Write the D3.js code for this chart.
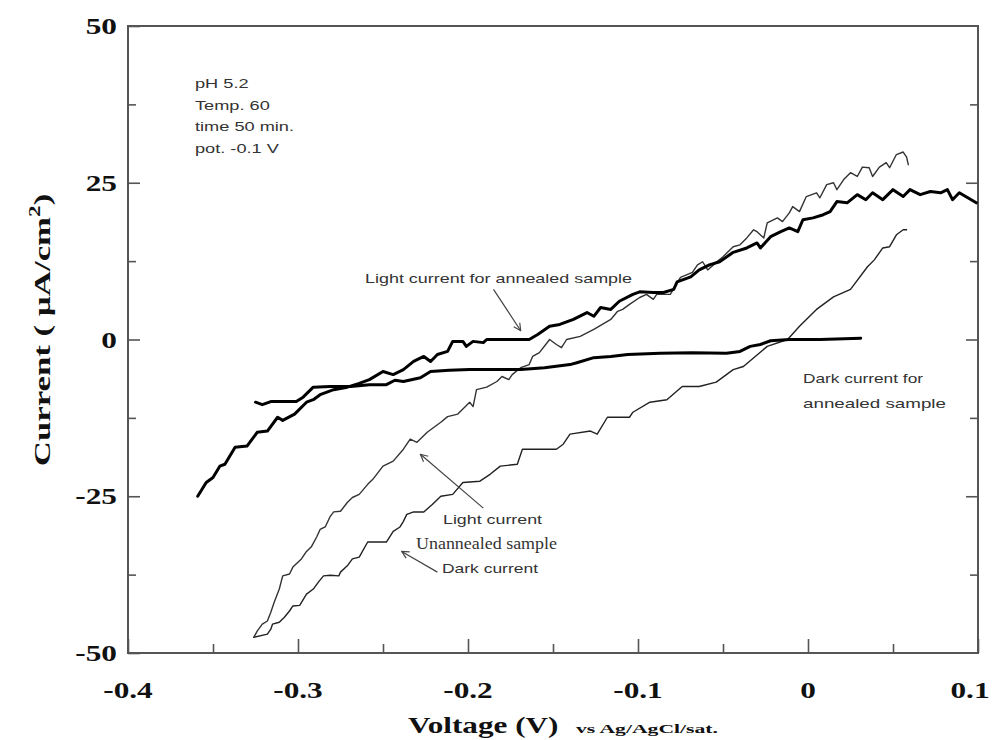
<!DOCTYPE html>
<html>
<head>
<meta charset="utf-8">
<script src="https://cdn.jsdelivr.net/npm/d3@7"></script>
<style>
  body { margin: 0; background: #fff; }
  svg { display: block; }
  .tick-label { font-family: "Liberation Serif", "Times New Roman", serif; font-weight: bold; font-size: 23px; fill: #111; }
  .note { font-family: "Liberation Sans", Arial, sans-serif; font-size: 13px; fill: #333; }
</style>
</head>
<body>
<svg id="chart" width="995" height="740"></svg>
<script>
// Data: [voltage (V), current (uA/cm2)]
var lightAnnealed = [
  [-0.359, -25.0], [-0.354, -22.8], [-0.350, -22.0], [-0.346, -20.2], [-0.343, -19.9],
  [-0.337, -17.2], [-0.330, -17.0], [-0.324, -14.8], [-0.318, -14.6], [-0.312, -12.4],
  [-0.309, -12.9], [-0.302, -11.9], [-0.295, -10.0], [-0.291, -9.6], [-0.287, -8.8],
  [-0.279, -8.0], [-0.271, -7.6], [-0.264, -7.0], [-0.258, -6.4], [-0.250, -5.1],
  [-0.244, -5.6], [-0.238, -4.8], [-0.232, -3.5], [-0.226, -2.7], [-0.222, -3.5],
  [-0.218, -2.4], [-0.212, -1.9], [-0.209, -0.3], [-0.203, -0.3], [-0.201, -1.1],
  [-0.197, -0.3], [-0.191, -0.5], [-0.189, 0.0], [-0.179, 0.0], [-0.164, 0.0],
  [-0.159, 0.8], [-0.152, 2.1], [-0.146, 2.4], [-0.138, 3.2], [-0.130, 4.3],
  [-0.126, 3.7], [-0.122, 5.1], [-0.116, 4.8], [-0.111, 6.1], [-0.103, 7.2],
  [-0.099, 7.6], [-0.091, 7.5], [-0.085, 7.5], [-0.079, 8.0], [-0.077, 9.2],
  [-0.069, 10.0], [-0.064, 11.1], [-0.058, 11.9], [-0.052, 12.4], [-0.044, 13.9],
  [-0.036, 14.6], [-0.030, 15.4], [-0.028, 14.6], [-0.022, 16.4], [-0.016, 17.2],
  [-0.011, 17.8], [-0.006, 17.2], [-0.003, 19.1], [0.003, 19.4], [0.009, 19.9],
  [0.013, 20.4], [0.017, 22.0], [0.023, 21.8], [0.029, 23.1], [0.034, 22.3],
  [0.038, 23.4], [0.044, 22.3], [0.050, 23.9], [0.056, 22.8], [0.060, 23.9],
  [0.066, 23.1], [0.072, 23.6], [0.078, 23.4], [0.082, 23.9], [0.085, 22.3],
  [0.089, 23.4], [0.094, 22.6], [0.099, 21.8]
]
var darkAnnealed = [
  [-0.325, -10.0], [-0.321, -10.4], [-0.316, -9.9], [-0.301, -9.9], [-0.297, -9.2],
  [-0.291, -7.6], [-0.281, -7.5], [-0.269, -7.5], [-0.258, -7.2], [-0.248, -7.2],
  [-0.243, -6.5], [-0.238, -6.7], [-0.228, -6.1], [-0.222, -5.1], [-0.211, -4.9],
  [-0.199, -4.8], [-0.181, -4.8], [-0.169, -4.8], [-0.155, -4.5], [-0.140, -4.0],
  [-0.136, -3.7], [-0.126, -2.9], [-0.116, -2.7], [-0.106, -2.4], [-0.087, -2.2],
  [-0.068, -2.1], [-0.048, -2.2], [-0.040, -1.9], [-0.034, -1.1], [-0.028, -0.8],
  [-0.022, -0.2], [-0.011, 0.0], [0.007, 0.0], [0.031, 0.2]
]
var lightUnannealed = [
  [-0.326, -47.5], [-0.324, -46.5], [-0.321, -45.4], [-0.318, -44.9], [-0.316, -43.5],
  [-0.314, -41.9], [-0.311, -39.8], [-0.309, -37.7], [-0.305, -37.4], [-0.303, -36.3],
  [-0.298, -35.0], [-0.295, -33.8], [-0.292, -33.0], [-0.289, -31.5], [-0.287, -30.3],
  [-0.284, -29.9], [-0.281, -28.2], [-0.279, -27.5], [-0.275, -27.4], [-0.271, -26.0],
  [-0.268, -25.2], [-0.264, -24.7], [-0.259, -23.1], [-0.256, -22.3], [-0.250, -20.2],
  [-0.244, -19.4], [-0.238, -17.5], [-0.234, -15.9], [-0.230, -16.4], [-0.224, -14.8],
  [-0.216, -13.2], [-0.212, -12.3], [-0.206, -11.9], [-0.199, -10.0], [-0.197, -10.7],
  [-0.195, -8.0], [-0.189, -7.6], [-0.183, -6.7], [-0.180, -5.9], [-0.176, -6.4],
  [-0.174, -5.6], [-0.169, -4.5], [-0.164, -4.0], [-0.162, -2.7], [-0.158, -2.1],
  [-0.152, 0.0], [-0.148, -0.8], [-0.145, -1.3], [-0.142, 0.0], [-0.134, 0.5],
  [-0.126, 1.6], [-0.116, 3.2], [-0.112, 4.5], [-0.109, 4.8], [-0.105, 5.6],
  [-0.099, 6.7], [-0.095, 7.2], [-0.091, 6.4], [-0.089, 7.2], [-0.081, 7.2],
  [-0.075, 9.9], [-0.068, 10.7], [-0.065, 11.9], [-0.062, 12.4], [-0.059, 11.1],
  [-0.054, 12.3], [-0.050, 13.2], [-0.044, 14.8], [-0.040, 15.1], [-0.036, 16.2],
  [-0.032, 17.5], [-0.030, 17.2], [-0.026, 16.2], [-0.024, 18.6], [-0.018, 19.4],
  [-0.015, 18.8], [-0.011, 20.2], [-0.009, 21.2], [-0.005, 20.4], [-0.001, 22.8],
  [0.005, 23.4], [0.007, 22.6], [0.011, 24.7], [0.015, 25.0], [0.017, 23.9],
  [0.021, 25.5], [0.025, 26.6], [0.029, 26.0], [0.032, 27.5], [0.036, 27.4],
  [0.038, 26.0], [0.042, 27.5], [0.046, 28.2], [0.048, 27.4], [0.052, 29.5],
  [0.056, 29.9], [0.058, 29.1], [0.059, 27.9]
]
var darkUnannealed = [
  [-0.326, -47.5], [-0.318, -47.0], [-0.316, -46.2], [-0.315, -45.4], [-0.311, -45.1],
  [-0.308, -44.3], [-0.305, -43.3], [-0.303, -42.5], [-0.299, -42.4], [-0.295, -40.6],
  [-0.291, -39.8], [-0.288, -38.7], [-0.285, -37.7], [-0.281, -37.6], [-0.276, -37.7],
  [-0.275, -37.1], [-0.271, -36.1], [-0.268, -35.0], [-0.264, -34.7], [-0.259, -32.3],
  [-0.254, -32.3], [-0.248, -32.3], [-0.244, -30.6], [-0.240, -29.9], [-0.238, -29.0],
  [-0.236, -27.9], [-0.232, -27.5], [-0.226, -27.5], [-0.221, -26.3], [-0.216, -25.0],
  [-0.209, -24.7], [-0.203, -22.8], [-0.193, -22.6], [-0.187, -21.5], [-0.181, -20.2],
  [-0.171, -19.9], [-0.168, -17.5], [-0.148, -17.5], [-0.144, -16.7], [-0.140, -15.1],
  [-0.128, -14.6], [-0.124, -15.1], [-0.118, -12.4], [-0.105, -12.4], [-0.103, -11.6],
  [-0.093, -10.0], [-0.083, -9.6], [-0.074, -7.5], [-0.064, -7.5], [-0.054, -6.8],
  [-0.044, -4.8], [-0.038, -4.3], [-0.024, -1.1], [-0.012, 0.0], [-0.005, 2.1],
  [0.005, 4.8], [0.015, 6.8], [0.025, 8.0], [0.035, 11.6], [0.039, 12.7],
  [0.044, 14.6], [0.048, 14.8], [0.052, 16.7], [0.056, 17.5], [0.058, 17.5]
]

var yTicks = [-50, -25, 0, 25, 50]
var yMinorTicks = [-37.5, -12.5, 12.5, 37.5]
var xTicks = [-0.4, -0.3, -0.2, -0.1, 0, 0.1]
var xMinorTicks = [-0.35, -0.25, -0.15, -0.05, 0.05]

var conditions = ['pH 5.2', 'Temp. 60', 'time 50 min.', 'pot. -0.1 V']

;(function () {
  var svg = d3.select('#chart')
  var m = { left: 128, right: 978, top: 26, bottom: 653 }

  var x = d3.scaleLinear().domain([-0.4, 0.1]).range([m.left, m.right])
  var y = d3.scaleLinear().domain([-50, 50]).range([m.bottom, m.top])

  var axisColor = '#555'

  // frame
  svg.append('rect')
    .attr('x', m.left).attr('y', m.top)
    .attr('width', m.right - m.left).attr('height', m.bottom - m.top)
    .attr('fill', 'none').attr('stroke', axisColor).attr('stroke-width', 2)

  // inward ticks, major and minor
  function drawAxis (axis, ticks, size, tr) {
    var g = svg.append('g').attr('transform', tr)
      .call(axis.tickValues(ticks).tickSize(size).tickFormat(''))
    g.select('.domain').remove()
    g.selectAll('.tick line').attr('stroke', axisColor).attr('stroke-width', 1.6)
    return g
  }
  drawAxis(d3.axisBottom(x), xTicks, -14, 'translate(0,' + m.bottom + ')')
  drawAxis(d3.axisBottom(x), xMinorTicks, -9, 'translate(0,' + m.bottom + ')')
  drawAxis(d3.axisLeft(y), yTicks, -12, 'translate(' + m.left + ',0)')
  drawAxis(d3.axisLeft(y), yMinorTicks, -8, 'translate(' + m.left + ',0)')
  drawAxis(d3.axisRight(y), yTicks.slice(1, 4), -12, 'translate(' + m.right + ',0)')
  drawAxis(d3.axisRight(y), yMinorTicks, -8, 'translate(' + m.right + ',0)')

  // tick labels (the picture is stretched sideways, so the glyphs are too)
  svg.append('g').selectAll('text').data(xTicks).join('text')
    .attr('class', 'tick-label')
    .attr('text-anchor', 'middle')
    .attr('transform', function (d, i) {
      var dx = i === xTicks.length - 1 ? -8 : 0
      return 'translate(' + (x(d) + dx) + ',' + (m.bottom + 45) + ') scale(1.36,1)'
    })
    .text(function (d) { return String(d) })

  svg.append('g').selectAll('text').data(yTicks).join('text')
    .attr('class', 'tick-label')
    .attr('text-anchor', 'end')
    .attr('transform', function (d) { return 'translate(' + (m.left - 11) + ',' + (y(d) + 8) + ') scale(1.36,1)' })
    .text(function (d) { return String(d) })

  // axis titles
  svg.append('text')
    .attr('class', 'tick-label')
    .attr('transform', 'translate(408,733) scale(1.3,1)')
    .style('font-size', '24px')
    .text('Voltage (V)')
  svg.append('text')
    .attr('class', 'tick-label')
    .attr('x', 576).attr('y', 733)
    .attr('textLength', 142).attr('lengthAdjust', 'spacingAndGlyphs')
    .style('font-size', '13px')
    .text('vs Ag/AgCl/sat.')

  var yt = svg.append('text')
    .attr('class', 'tick-label')
    .attr('text-anchor', 'middle')
    .style('font-size', '24px')
    .attr('transform', 'translate(50,330) rotate(-90) scale(1.45,1)')
  yt.append('tspan').text('Current ( \u00b5A/cm')
  yt.append('tspan').attr('dy', -10).style('font-size', '16px').text('2')
  yt.append('tspan').attr('dy', 10).text(')')

  // curves
  var line = d3.line()
    .x(function (d) { return x(d[0]) })
    .y(function (d) { return y(d[1]) })

  var series = [
    { data: darkUnannealed, width: 1.4, color: '#222' },
    { data: lightUnannealed, width: 1.4, color: '#333' },
    { data: darkAnnealed, width: 3, color: '#000' },
    { data: lightAnnealed, width: 3, color: '#000' }
  ]
  svg.append('g').selectAll('path').data(series).join('path')
    .attr('d', function (d) { return line(d.data) })
    .attr('fill', 'none')
    .attr('stroke', function (d) { return d.color })
    .attr('stroke-width', function (d) { return d.width })
    .attr('stroke-linejoin', 'round')
    .attr('stroke-linecap', 'round')

  // annotations
  svg.append('g').selectAll('text').data(conditions).join('text')
    .attr('class', 'note')
    .attr('transform', function (d, i) { return 'translate(195,' + (88 + i * 21.5) + ') scale(1.4,1)' })
    .text(function (d) { return d })

  var notes = [
    { text: 'Light current for annealed sample', x: 365, y: 283, w: 267 },
    { text: 'Dark current for', x: 803, y: 383, w: 120 },
    { text: 'annealed sample', x: 803, y: 408, w: 143 },
    { text: 'Light current', x: 443, y: 524, w: 99 },
    { text: 'Dark current', x: 442, y: 573, w: 96 }
  ]
  svg.append('g').selectAll('text').data(notes).join('text')
    .attr('class', 'note')
    .attr('x', function (d) { return d.x })
    .attr('y', function (d) { return d.y })
    .attr('textLength', function (d) { return d.w })
    .attr('lengthAdjust', 'spacingAndGlyphs')
    .text(function (d) { return d.text })

  svg.append('text')
    .attr('x', 416).attr('y', 549)
    .attr('textLength', 141).attr('lengthAdjust', 'spacingAndGlyphs')
    .style('font-family', '"Liberation Serif", serif')
    .style('font-size', '16px')
    .attr('fill', '#333')
    .text('Unannealed sample')

  // arrows: [tail, tip] in data units
  var arrows = [
    [[-0.185, 8.0], [-0.169, 1.4]],
    [[-0.191, -26.9], [-0.228, -18.3]],
    [[-0.218, -37.1], [-0.239, -33.8]]
  ]
  svg.append('defs').append('marker')
    .attr('id', 'head')
    .attr('viewBox', '0 0 10 10')
    .attr('refX', 9).attr('refY', 5)
    .attr('markerWidth', 9).attr('markerHeight', 9)
    .attr('markerUnits', 'userSpaceOnUse')
    .attr('orient', 'auto')
    .append('path')
    .attr('d', 'M1,1 L9,5 L1,9')
    .attr('fill', 'none').attr('stroke', '#444').attr('stroke-width', 1.3)

  svg.append('g').selectAll('path').data(arrows).join('path')
    .attr('d', function (d) { return line(d) })
    .attr('fill', 'none')
    .attr('stroke', '#444')
    .attr('stroke-width', 1.2)
    .attr('marker-end', 'url(#head)')
})()
</script>
</body>
</html>
